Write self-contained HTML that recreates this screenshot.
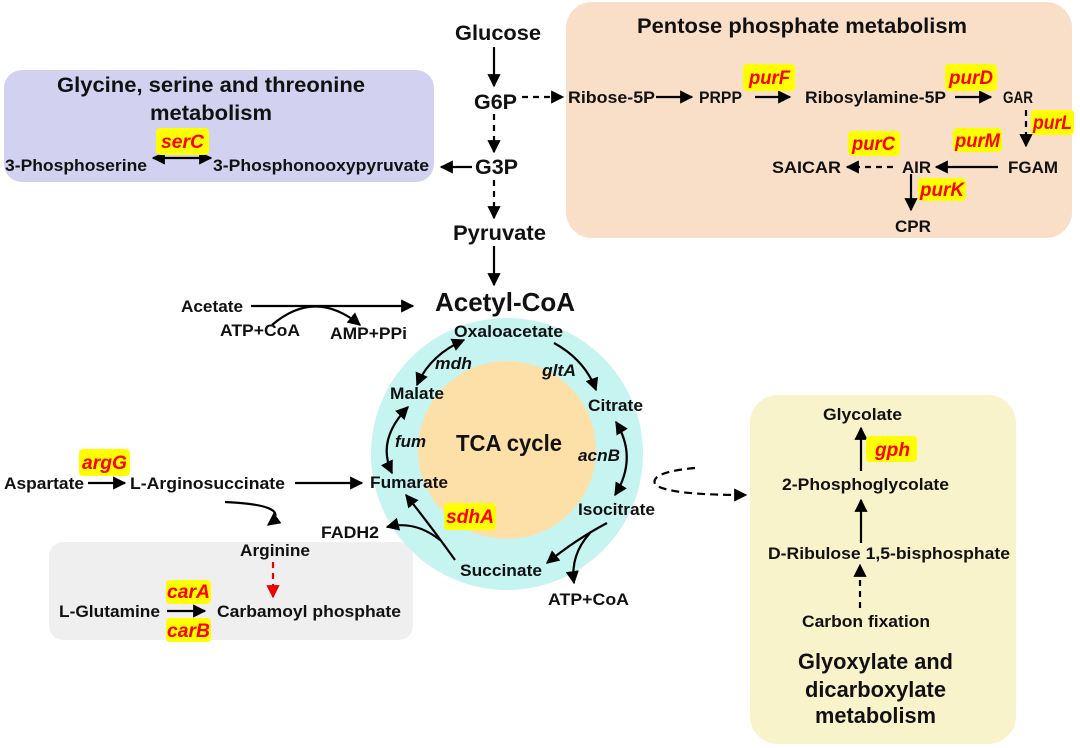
<!DOCTYPE html>
<html><head><meta charset="utf-8"><style>
html,body{margin:0;padding:0;background:#fff;}
svg{display:block;}
text{font-family:"Liberation Sans",Arial,sans-serif;font-weight:bold;fill:#111;}
.g{fill:#ff0000;font-style:italic;}
.i{font-style:italic;}
</style></head><body>
<svg width="1080" height="748" viewBox="0 0 1080 748" xmlns="http://www.w3.org/2000/svg">
<defs>
<marker id="a" viewBox="0 0 10 10" refX="9" refY="5" markerWidth="6" markerHeight="6" orient="auto-start-reverse" markerUnits="strokeWidth"><path d="M0,0 L10,5 L0,10 z" fill="#000"/></marker>
<marker id="r" viewBox="0 0 10 10" refX="9" refY="5" markerWidth="6" markerHeight="6" orient="auto" markerUnits="strokeWidth"><path d="M0,0 L10,5 L0,10 z" fill="#e00"/></marker>
</defs>
<rect x="4" y="70" width="430" height="112" rx="18" fill="#d2d2f0"/>
<rect x="566" y="2" width="506" height="236" rx="26" fill="#f9dfc7"/>
<rect x="750" y="395" width="266" height="349" rx="28" fill="#f8f3cb"/>
<rect x="49" y="542" width="364" height="98" rx="14" fill="#efefef"/>
<circle cx="507" cy="454" r="136" fill="#c6f5f1"/>
<circle cx="507" cy="450" r="89" fill="#fde0a8"/>

<g stroke="#000" stroke-width="2.2" fill="none">
<line x1="494" y1="47" x2="494" y2="86" marker-end="url(#a)"/>
<line x1="494" y1="114" x2="494" y2="152" stroke-dasharray="6,5" marker-end="url(#a)"/>
<line x1="494" y1="180" x2="494" y2="218" stroke-dasharray="6,5" marker-end="url(#a)"/>
<line x1="494" y1="246" x2="494" y2="285" marker-end="url(#a)"/>
<line x1="472" y1="167" x2="441" y2="167" marker-end="url(#a)"/>
<line x1="153" y1="158" x2="211" y2="158" marker-start="url(#a)" marker-end="url(#a)"/>
<line x1="522" y1="97" x2="563" y2="97" stroke-dasharray="6,5" marker-end="url(#a)"/>
<line x1="656" y1="97" x2="692" y2="97" marker-end="url(#a)"/>
<line x1="755" y1="97" x2="790" y2="97" marker-end="url(#a)"/>
<line x1="955" y1="97" x2="991" y2="97" marker-end="url(#a)"/>
<line x1="1026" y1="110" x2="1026" y2="146" stroke-dasharray="6,5" marker-end="url(#a)"/>
<line x1="998" y1="167" x2="936" y2="167" marker-end="url(#a)"/>
<line x1="893" y1="167" x2="847" y2="167" stroke-dasharray="6,5" marker-end="url(#a)"/>
<line x1="911" y1="174" x2="911" y2="210" marker-end="url(#a)"/>
<line x1="251" y1="306" x2="413" y2="306" marker-end="url(#a)"/>
<path d="M272,325 Q315,288 360,325" marker-end="url(#a)"/>
<path d="M464,340 Q430,355 417,385" marker-start="url(#a)" marker-end="url(#a)"/>
<path d="M554,343 Q585,360 596,390" marker-end="url(#a)"/>
<path d="M616,422 Q638,458 615,495" marker-start="url(#a)" marker-end="url(#a)"/>
<path d="M408,407 Q376,440 392,473" marker-start="url(#a)" marker-end="url(#a)"/>
<path d="M607,523 Q575,540 547,563" marker-end="url(#a)"/>
<path d="M590,533 Q570,555 574,583" marker-end="url(#a)"/>
<path d="M455,560 Q430,525 406,495" marker-end="url(#a)"/>
<path d="M440,540 Q415,520 387,527" marker-end="url(#a)"/>
<line x1="88" y1="483" x2="125" y2="483" marker-end="url(#a)"/>
<line x1="295" y1="483" x2="362" y2="483" marker-end="url(#a)"/>
<path d="M225,502 Q295,505 268,525" marker-end="url(#a)"/>
<line x1="167" y1="611" x2="205" y2="611" marker-end="url(#a)"/>
<line x1="861" y1="471" x2="861" y2="428" marker-end="url(#a)"/>
<line x1="861" y1="543" x2="861" y2="500" marker-end="url(#a)"/>
<line x1="860" y1="608" x2="860" y2="565" stroke-dasharray="6,5" marker-end="url(#a)"/>
<path d="M695,468 Q650,472 655,484 Q665,495 746,495" stroke-dasharray="8,5" marker-end="url(#a)"/>
</g>
<line x1="273" y1="562" x2="273" y2="597" stroke="#e00" stroke-width="2.2" stroke-dasharray="6,5" marker-end="url(#r)"/>

<g fill="#ffff00">
<rect x="156" y="128" width="53" height="27" rx="4"/>
<rect x="743" y="64" width="52" height="27" rx="4"/>
<rect x="945" y="64" width="52" height="27" rx="4"/>
<rect x="1031" y="110" width="43" height="25" rx="4"/>
<rect x="848" y="131" width="52" height="25" rx="4"/>
<rect x="953" y="128" width="49" height="24" rx="4"/>
<rect x="918" y="178" width="48" height="23" rx="4"/>
<rect x="444" y="503" width="52" height="27" rx="4"/>
<rect x="79" y="449" width="51" height="27" rx="4"/>
<rect x="166" y="580" width="45" height="24" rx="4"/>
<rect x="166" y="618" width="45" height="24" rx="4"/>
<rect x="866" y="436" width="51" height="26" rx="4"/>
</g>
<g class="g" font-size="19">
<text class="g" x="161" y="148" textLength="43" lengthAdjust="spacingAndGlyphs">serC</text>
<text class="g" x="749" y="84" textLength="41" lengthAdjust="spacingAndGlyphs">purF</text>
<text class="g" x="949" y="84" textLength="44" lengthAdjust="spacingAndGlyphs">purD</text>
<text class="g" x="1033" y="129" textLength="39" lengthAdjust="spacingAndGlyphs">purL</text>
<text class="g" x="852" y="150" textLength="43" lengthAdjust="spacingAndGlyphs">purC</text>
<text class="g" x="955" y="147" textLength="45" lengthAdjust="spacingAndGlyphs">purM</text>
<text class="g" x="920" y="196" textLength="44" lengthAdjust="spacingAndGlyphs">purK</text>
<text class="g" x="446" y="523" textLength="48" lengthAdjust="spacingAndGlyphs">sdhA</text>
<text class="g" x="82" y="469" textLength="45" lengthAdjust="spacingAndGlyphs">argG</text>
<text class="g" x="167" y="598" textLength="43" lengthAdjust="spacingAndGlyphs">carA</text>
<text class="g" x="167" y="637" textLength="43" lengthAdjust="spacingAndGlyphs">carB</text>
<text class="g" x="875" y="456" textLength="35" lengthAdjust="spacingAndGlyphs">gph</text>
</g>

<g font-size="21">
<text x="57" y="92" textLength="308" lengthAdjust="spacingAndGlyphs">Glycine, serine and threonine</text>
<text x="150" y="120" textLength="122" lengthAdjust="spacingAndGlyphs">metabolism</text>
<text x="455" y="40" textLength="86" lengthAdjust="spacingAndGlyphs">Glucose</text>
<text x="474" y="109" textLength="43" lengthAdjust="spacingAndGlyphs">G6P</text>
<text x="475" y="174" textLength="43" lengthAdjust="spacingAndGlyphs">G3P</text>
<text x="453" y="240" textLength="93" lengthAdjust="spacingAndGlyphs">Pyruvate</text>
<text x="637" y="33" textLength="330" lengthAdjust="spacingAndGlyphs">Pentose phosphate metabolism</text>
</g>
<text x="435" y="311" font-size="26" textLength="140" lengthAdjust="spacingAndGlyphs">Acetyl-CoA</text>
<text x="456" y="451" font-size="23" textLength="106" lengthAdjust="spacingAndGlyphs">TCA cycle</text>
<g font-size="22">
<text x="798" y="669" textLength="155" lengthAdjust="spacingAndGlyphs">Glyoxylate and</text>
<text x="805" y="697" textLength="141" lengthAdjust="spacingAndGlyphs">dicarboxylate</text>
<text x="815" y="723" textLength="121" lengthAdjust="spacingAndGlyphs">metabolism</text>
</g>
<g font-size="17">
<text x="5" y="171" textLength="142" lengthAdjust="spacingAndGlyphs">3-Phosphoserine</text>
<text x="213" y="171" textLength="216" lengthAdjust="spacingAndGlyphs">3-Phosphonooxypyruvate</text>
<text x="568" y="103" textLength="87" lengthAdjust="spacingAndGlyphs">Ribose-5P</text>
<text x="699" y="103" textLength="43" lengthAdjust="spacingAndGlyphs">PRPP</text>
<text x="805" y="103" textLength="141" lengthAdjust="spacingAndGlyphs">Ribosylamine-5P</text>
<text x="1003" y="103" textLength="30" lengthAdjust="spacingAndGlyphs">GAR</text>
<text x="1008" y="173" textLength="50" lengthAdjust="spacingAndGlyphs">FGAM</text>
<text x="902" y="173" textLength="29" lengthAdjust="spacingAndGlyphs">AIR</text>
<text x="772" y="173" textLength="69" lengthAdjust="spacingAndGlyphs">SAICAR</text>
<text x="895" y="232" textLength="36" lengthAdjust="spacingAndGlyphs">CPR</text>
<text x="181" y="312" textLength="62" lengthAdjust="spacingAndGlyphs">Acetate</text>
<text x="220" y="336" textLength="80" lengthAdjust="spacingAndGlyphs">ATP+CoA</text>
<text x="330" y="339" textLength="77" lengthAdjust="spacingAndGlyphs">AMP+PPi</text>
<text x="454" y="337" textLength="109" lengthAdjust="spacingAndGlyphs">Oxaloacetate</text>
<text class="i" x="435" y="369" textLength="37" lengthAdjust="spacingAndGlyphs">mdh</text>
<text class="i" x="542" y="376" textLength="34" lengthAdjust="spacingAndGlyphs">gltA</text>
<text x="390" y="399" textLength="54" lengthAdjust="spacingAndGlyphs">Malate</text>
<text x="588" y="411" textLength="55" lengthAdjust="spacingAndGlyphs">Citrate</text>
<text class="i" x="395" y="447" textLength="31" lengthAdjust="spacingAndGlyphs">fum</text>
<text class="i" x="578" y="461" textLength="42" lengthAdjust="spacingAndGlyphs">acnB</text>
<text x="370" y="488" textLength="78" lengthAdjust="spacingAndGlyphs">Fumarate</text>
<text x="578" y="515" textLength="77" lengthAdjust="spacingAndGlyphs">Isocitrate</text>
<text x="321" y="538" textLength="58" lengthAdjust="spacingAndGlyphs">FADH2</text>
<text x="460" y="576" textLength="82" lengthAdjust="spacingAndGlyphs">Succinate</text>
<text x="548" y="605" textLength="81" lengthAdjust="spacingAndGlyphs">ATP+CoA</text>
<text x="4" y="489" textLength="80" lengthAdjust="spacingAndGlyphs">Aspartate</text>
<text x="130" y="489" textLength="155" lengthAdjust="spacingAndGlyphs">L-Arginosuccinate</text>
<text x="240" y="556" textLength="70" lengthAdjust="spacingAndGlyphs">Arginine</text>
<text x="59" y="617" textLength="101" lengthAdjust="spacingAndGlyphs">L-Glutamine</text>
<text x="217" y="617" textLength="184" lengthAdjust="spacingAndGlyphs">Carbamoyl phosphate</text>
<text x="823" y="420" textLength="79" lengthAdjust="spacingAndGlyphs">Glycolate</text>
<text x="782" y="490" textLength="167" lengthAdjust="spacingAndGlyphs">2-Phosphoglycolate</text>
<text x="768" y="559" textLength="242" lengthAdjust="spacingAndGlyphs">D-Ribulose 1,5-bisphosphate</text>
<text x="802" y="627" textLength="128" lengthAdjust="spacingAndGlyphs">Carbon fixation</text>
</g>
</svg>
</body></html>
